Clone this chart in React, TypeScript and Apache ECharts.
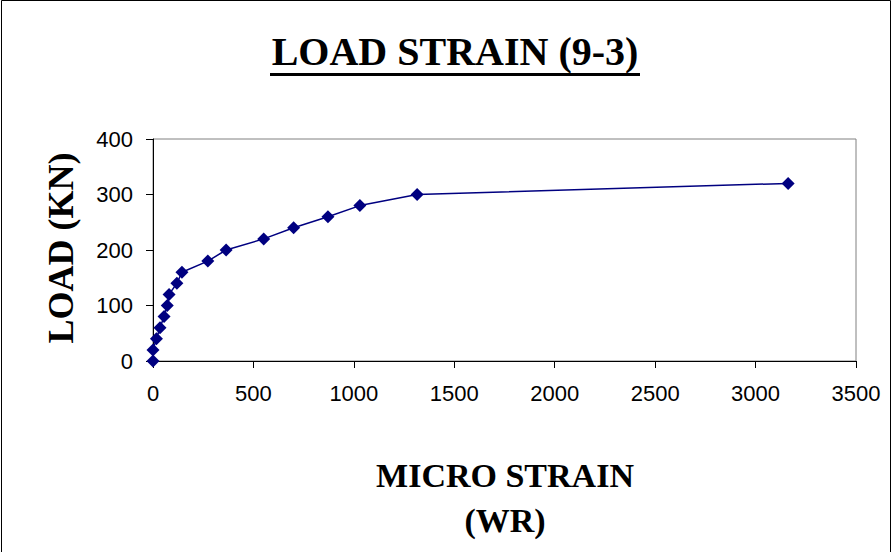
import React, { useEffect, useRef } from "react";
import * as echarts from "echarts";

const strainValues = [0, 0, 17, 35, 55, 71, 80, 119, 144, 273, 364, 551, 700, 871, 1030, 1315, 3162];
const loadValues = [0, 20, 40, 60, 80, 100, 120, 140, 160, 180, 200, 220, 240, 260, 280, 300, 320];
const chartTitle = "LOAD STRAIN (9-3)";
const xTitleLine1 = "MICRO STRAIN";
const xTitleLine2 = "(WR)";
const yTitle = "LOAD (KN)";

export default function App() {
  const ref = useRef<HTMLDivElement>(null);
  useEffect(() => {
    if (!ref.current) return;
    const chart = echarts.init(ref.current, null, { renderer: "svg" });
    const serif = "'Liberation Serif', 'Times New Roman', serif";
    const sans = "'Liberation Sans', Arial, sans-serif";
    const pts = strainValues.map((x, i) => [x, loadValues[i]]);
    chart.setOption({
      animation: false,
      backgroundColor: "#ffffff",
      grid: {
        left: 153,
        right: 36,
        top: 139,
        bottom: 191,
        show: true,
        borderColor: "#808080",
        borderWidth: 1,
        backgroundColor: "#ffffff",
      },
      xAxis: {
        type: "value",
        min: 0,
        max: 3500,
        interval: 500,
        axisLine: { show: true, onZero: false, lineStyle: { color: "#000", width: 1 } },
        axisTick: { show: true, inside: false, length: 7, lineStyle: { color: "#000" } },
        splitLine: { show: false },
        axisLabel: {
          color: "#000",
          fontFamily: sans,
          fontSize: 22,
          margin: 21,
          formatter: (v: number) => String(v),
        },
      },
      yAxis: {
        type: "value",
        min: 0,
        max: 400,
        interval: 100,
        axisLine: { show: true, onZero: false, lineStyle: { color: "#000", width: 1 } },
        axisTick: { show: true, inside: false, length: 7, lineStyle: { color: "#000" } },
        splitLine: { show: false },
        axisLabel: {
          color: "#000",
          fontFamily: sans,
          fontSize: 22,
          margin: 20,
          formatter: (v: number) => String(v),
        },
      },
      series: [
        {
          type: "line",
          data: pts,
          symbol: "diamond",
          symbolSize: 13,
          lineStyle: { color: "#000080", width: 1.5 },
          itemStyle: { color: "#000080" },
        },
      ],
      graphic: [
        {
          type: "rect",
          shape: { x: 1.5, y: 0.5, width: 889, height: 560 },
          style: { fill: "none", stroke: "#000", lineWidth: 1 },
          z: 100,
        },
        {
          type: "text",
          x: 455,
          y: 51,
          style: {
            text: chartTitle,
            fontFamily: serif,
            fontWeight: "bold",
            fontSize: 40,
            fill: "#000",
            align: "center",
            verticalAlign: "middle",
          },
        },
        {
          type: "rect",
          shape: { x: 270, y: 73, width: 370, height: 3 },
          style: { fill: "#000" },
        },
        {
          type: "text",
          x: 505,
          y: 475,
          style: {
            text: xTitleLine1,
            fontFamily: serif,
            fontWeight: "bold",
            fontSize: 34,
            fill: "#000",
            align: "center",
            verticalAlign: "middle",
          },
        },
        {
          type: "text",
          x: 505,
          y: 520,
          style: {
            text: xTitleLine2,
            fontFamily: serif,
            fontWeight: "bold",
            fontSize: 34,
            fill: "#000",
            align: "center",
            verticalAlign: "middle",
          },
        },
        {
          type: "text",
          x: 61,
          y: 248,
          rotation: Math.PI / 2,
          style: {
            text: yTitle,
            fontFamily: serif,
            fontWeight: "bold",
            fontSize: 36,
            fill: "#000",
            align: "center",
            verticalAlign: "middle",
          },
        },
      ],
    });
    return () => chart.dispose();
  }, []);
  return (
    <div
      ref={ref}
      style={{ position: "fixed", left: 0, top: 0, width: 892, height: 552 }}
    />
  );
}
